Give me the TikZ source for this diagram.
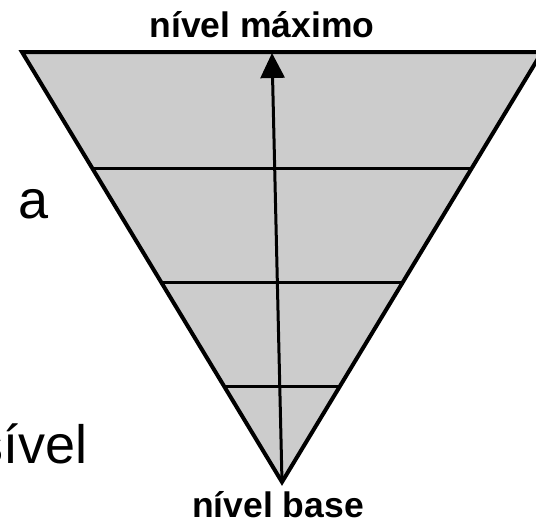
\documentclass[tikz,border=0pt]{standalone}
\usepackage{fontspec}
\setmainfont{Liberation Sans}
\usetikzlibrary{arrows.meta,calc}
\definecolor{fillgray}{HTML}{CCCCCC}
\begin{document}
\begin{tikzpicture}[x=1pt,y=-1pt,
  edge/.style={line width=4pt, line join=miter},
  rung/.style={line width=3pt},
  lbl/.style={font=\fontsize{35.5}{40}\selectfont\bfseries, inner sep=0pt},
  side/.style={font=\fontsize{54}{60}\selectfont, inner sep=0pt}]
\useasboundingbox (0,0) rectangle (536,522);
\coordinate (TL) at (22,52);
\coordinate (TR) at (542,52);
\coordinate (B) at (282,482);
\coordinate (T) at (272,53);
\fill[fillgray] (TL) -- (TR) -- (B) -- cycle;
\coordinate (L1) at ($(TL)!0.272!(B)$);
\coordinate (R1) at ($(TR)!0.272!(B)$);
\coordinate (L2) at ($(TL)!0.535!(B)$);
\coordinate (R2) at ($(TR)!0.535!(B)$);
\coordinate (L3) at ($(TL)!0.779!(B)$);
\coordinate (R3) at ($(TR)!0.779!(B)$);
\draw[rung] (L1) -- (R1);
\draw[rung] (L2) -- (R2);
\draw[rung] (L3) -- (R3);
\draw[rung, -{Triangle[length=25pt,width=24pt]}] (B) -- (T);
\draw[edge] (TL) -- (TR) -- (B) -- cycle;
\node[lbl, anchor=base] (top) at (262,37) {nível máximo};
\node[lbl, anchor=base] (bottom) at (278,517) {nível base};
\node[side, anchor=base west] (a) at (18,218) {a};
\node[side, anchor=base east] (s) at (88,463) {sível};
\end{tikzpicture}
\end{document}
